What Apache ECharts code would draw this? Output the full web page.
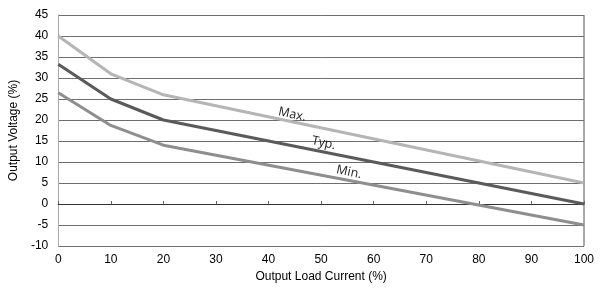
<!DOCTYPE html>
<html>
<head>
<meta charset="utf-8">
<script src="https://cdn.jsdelivr.net/npm/echarts@6/dist/echarts.min.js"></script>
<style>
  html, body { margin: 0; padding: 0; background: #fff; }
  #chart { width: 606px; height: 288px; }
</style>
</head>
<body>
<div id="chart"></div>
<script>
// load current (%) at each read point
var loadPts = [0, 10, 20, 100];
var maxVals = [40, 31, 26, 5];
var typVals = [33.3, 25, 20, 0];
var minVals = [26.5, 18.7, 14, -5];

function pairs(ys) {
  return loadPts.map(function (x, i) { return [x, ys[i]]; });
}

var chart = echarts.init(document.getElementById('chart'), null, { renderer: 'canvas' });

function tag(name, coord) {
  return {
    symbol: 'circle',
    symbolSize: 1,
    silent: true,
    itemStyle: { color: 'rgba(0,0,0,0)' },
    label: {
      show: true,
      position: 'inside',
      formatter: name,
      rotate: -12,
      fontFamily: 'Open Sans',
      fontSize: 12.5,
      color: '#222'
    },
    data: [{ coord: coord }]
  };
}

var option = {
  animation: false,
  grid: { left: 56, right: 22, top: 15, bottom: 42 },
  xAxis: {
    type: 'value',
    min: 0, max: 100, interval: 10,
    name: 'Output Load Current (%)',
    nameLocation: 'middle',
    nameGap: 21,
    nameTextStyle: { fontFamily: 'Liberation Sans', fontSize: 12, color: '#000' },
    axisLine: { show: true, lineStyle: { color: '#333', width: 1 } },
    axisTick: { show: true, inside: true, length: 3, lineStyle: { color: '#666' } },
    axisLabel: { fontFamily: 'Liberation Sans', fontSize: 12, color: '#000', margin: 8 },
    splitLine: { show: false }
  },
  yAxis: {
    type: 'value',
    min: -10, max: 45, interval: 5,
    name: 'Output Voltage (%)',
    nameLocation: 'middle',
    nameGap: 32,
    nameTextStyle: { fontFamily: 'Liberation Sans', fontSize: 12, color: '#000' },
    axisLine: { show: true, lineStyle: { color: '#aaa', width: 1 } },
    axisTick: { show: false },
    axisLabel: { fontFamily: 'Liberation Sans', fontSize: 12, color: '#000', margin: 10 },
    splitLine: { show: true, lineStyle: { color: '#6e6e6e', width: 1 } }
  },
  graphic: [{
    type: 'line',
    shape: { x1: 584, y1: 15, x2: 584, y2: 246 },
    style: { stroke: '#555', lineWidth: 1 }
  }],
  series: [
    {
      name: 'Max.', type: 'line', data: pairs(maxVals),
      showSymbol: false,
      lineStyle: { color: '#b5b5b5', width: 3 },
      markPoint: tag('Max.', [44.5, 21.3])
    },
    {
      name: 'Typ.', type: 'line', data: pairs(typVals),
      showSymbol: false,
      lineStyle: { color: '#5a5a5a', width: 3 },
      markPoint: tag('Typ.', [50.5, 14.5])
    },
    {
      name: 'Min.', type: 'line', data: pairs(minVals),
      showSymbol: false,
      lineStyle: { color: '#8e8e8e', width: 3 },
      markPoint: tag('Min.', [55.3, 7.6])
    }
  ]
};

chart.setOption(option);
</script>
</body>
</html>
